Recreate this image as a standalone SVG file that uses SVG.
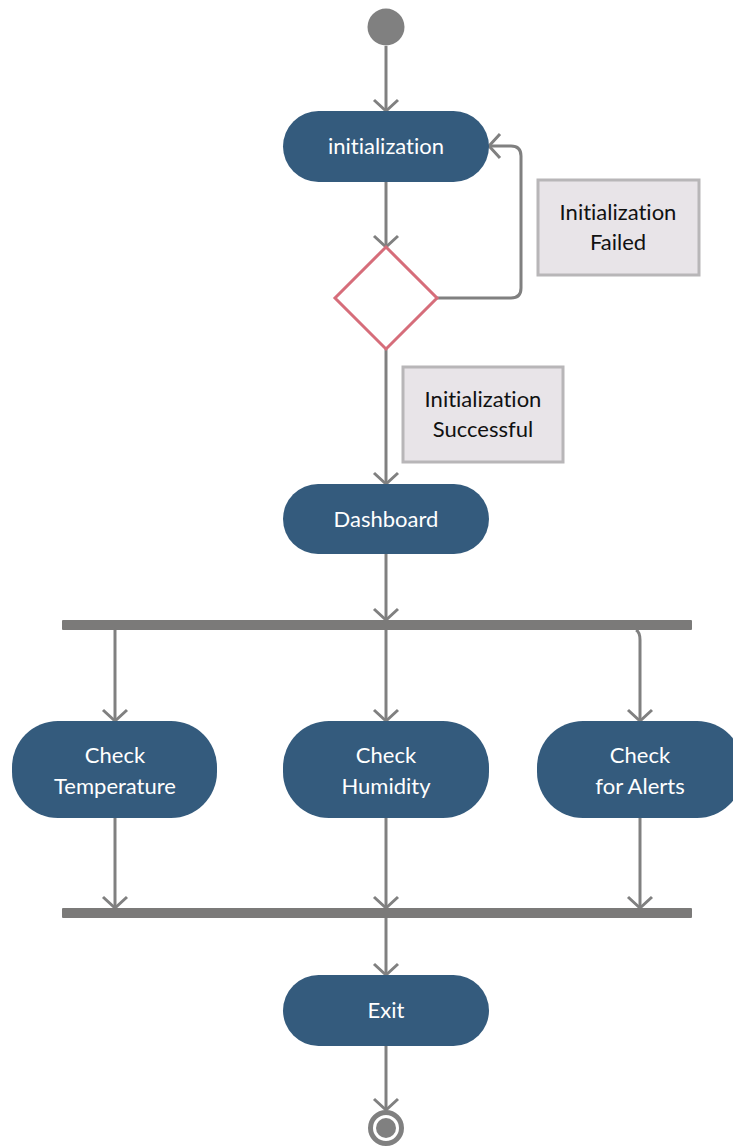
<svg xmlns="http://www.w3.org/2000/svg" width="733" height="1147" viewBox="0 0 733 1147">
<defs>
<style>
.pill{fill:#345b7d}
.pt{fill:#ffffff;font-family:Lato,"Liberation Sans",sans-serif;font-size:22px;text-anchor:middle;font-variant-ligatures:none}
.note{fill:#e8e4e8;stroke:#b8b6b8;stroke-width:3}
.nt{fill:#111111;font-family:Lato,"Liberation Sans",sans-serif;font-size:22px;text-anchor:middle;font-variant-ligatures:none}
.edge{fill:none;stroke:#808080;stroke-width:3;marker-end:url(#arr)}
.bar{fill:#7b7a79}
</style>
<marker id="arr" markerUnits="userSpaceOnUse" markerWidth="30" markerHeight="30" viewBox="-15 -15 30 30" refX="0" refY="0" orient="auto">
<path d="M-11,-12 L0,0 L-11,12" fill="none" stroke="#808080" stroke-width="3"/>
</marker>
</defs>
<g id="connectors">
<path class="edge" d="M386 46 V111"/>
<path class="edge" d="M386 182 V247"/>
<path class="edge" d="M437 298 H511 Q521 298 521 288 V156 Q521 146 511 146 H489"/>
<path class="edge" d="M386 349 V484"/>
<path class="edge" d="M386 554 V620"/>
<path class="edge" d="M115 630 V721"/>
<path class="edge" d="M386 630 V721"/>
<path class="edge" d="M636 630 Q640 632 640 640 V721"/>
<path class="edge" d="M115 818 V908"/>
<path class="edge" d="M386 818 V908"/>
<path class="edge" d="M640 818 V908"/>
<path class="edge" d="M386 918 V975"/>
<path class="edge" d="M386 1046 V1110"/>
</g>
<g id="start"><circle cx="386" cy="27" r="18.5" fill="#808080"/></g>
<g id="initialization"><rect class="pill" x="283" y="111" width="206" height="71" rx="35.5"/><text class="pt" x="386" y="154">initialization</text></g>
<g id="decision"><polygon points="386,247 437,298 386,349 335,298" fill="#ffffff" stroke="#d66d7a" stroke-width="3"/></g>
<g id="note-failed"><rect class="note" x="538" y="180" width="161" height="95"/><text class="nt" x="618" y="220">Initialization</text><text class="nt" x="618" y="250">Failed</text></g>
<g id="note-success"><rect class="note" x="403" y="367" width="160" height="95"/><text class="nt" x="483" y="407">Initialization</text><text class="nt" x="483" y="437">Successful</text></g>
<g id="dashboard"><rect class="pill" x="283" y="484" width="206" height="70" rx="35"/><text class="pt" x="386" y="527">Dashboard</text></g>
<g id="fork"><rect class="bar" x="62" y="620" width="630" height="10" rx="1"/></g>
<g id="check-temperature"><rect class="pill" x="12" y="721" width="205" height="97" rx="46"/><text class="pt" x="115" y="763">Check</text><text class="pt" x="115" y="794">Temperature</text></g>
<g id="check-humidity"><rect class="pill" x="283" y="721" width="206" height="97" rx="46"/><text class="pt" x="386" y="763">Check</text><text class="pt" x="386" y="794">Humidity</text></g>
<g id="check-alerts"><rect class="pill" x="537" y="721" width="206" height="97" rx="46"/><text class="pt" x="640" y="763">Check</text><text class="pt" x="640" y="794">for Alerts</text></g>
<g id="join"><rect class="bar" x="62" y="908" width="630" height="10" rx="1"/></g>
<g id="exit"><rect class="pill" x="283" y="975" width="206" height="71" rx="35.5"/><text class="pt" x="386" y="1018">Exit</text></g>
<g id="end"><circle cx="386" cy="1128" r="15.5" fill="#ffffff" stroke="#808080" stroke-width="5"/><circle cx="386" cy="1128" r="10" fill="#808080"/></g>
</svg>
